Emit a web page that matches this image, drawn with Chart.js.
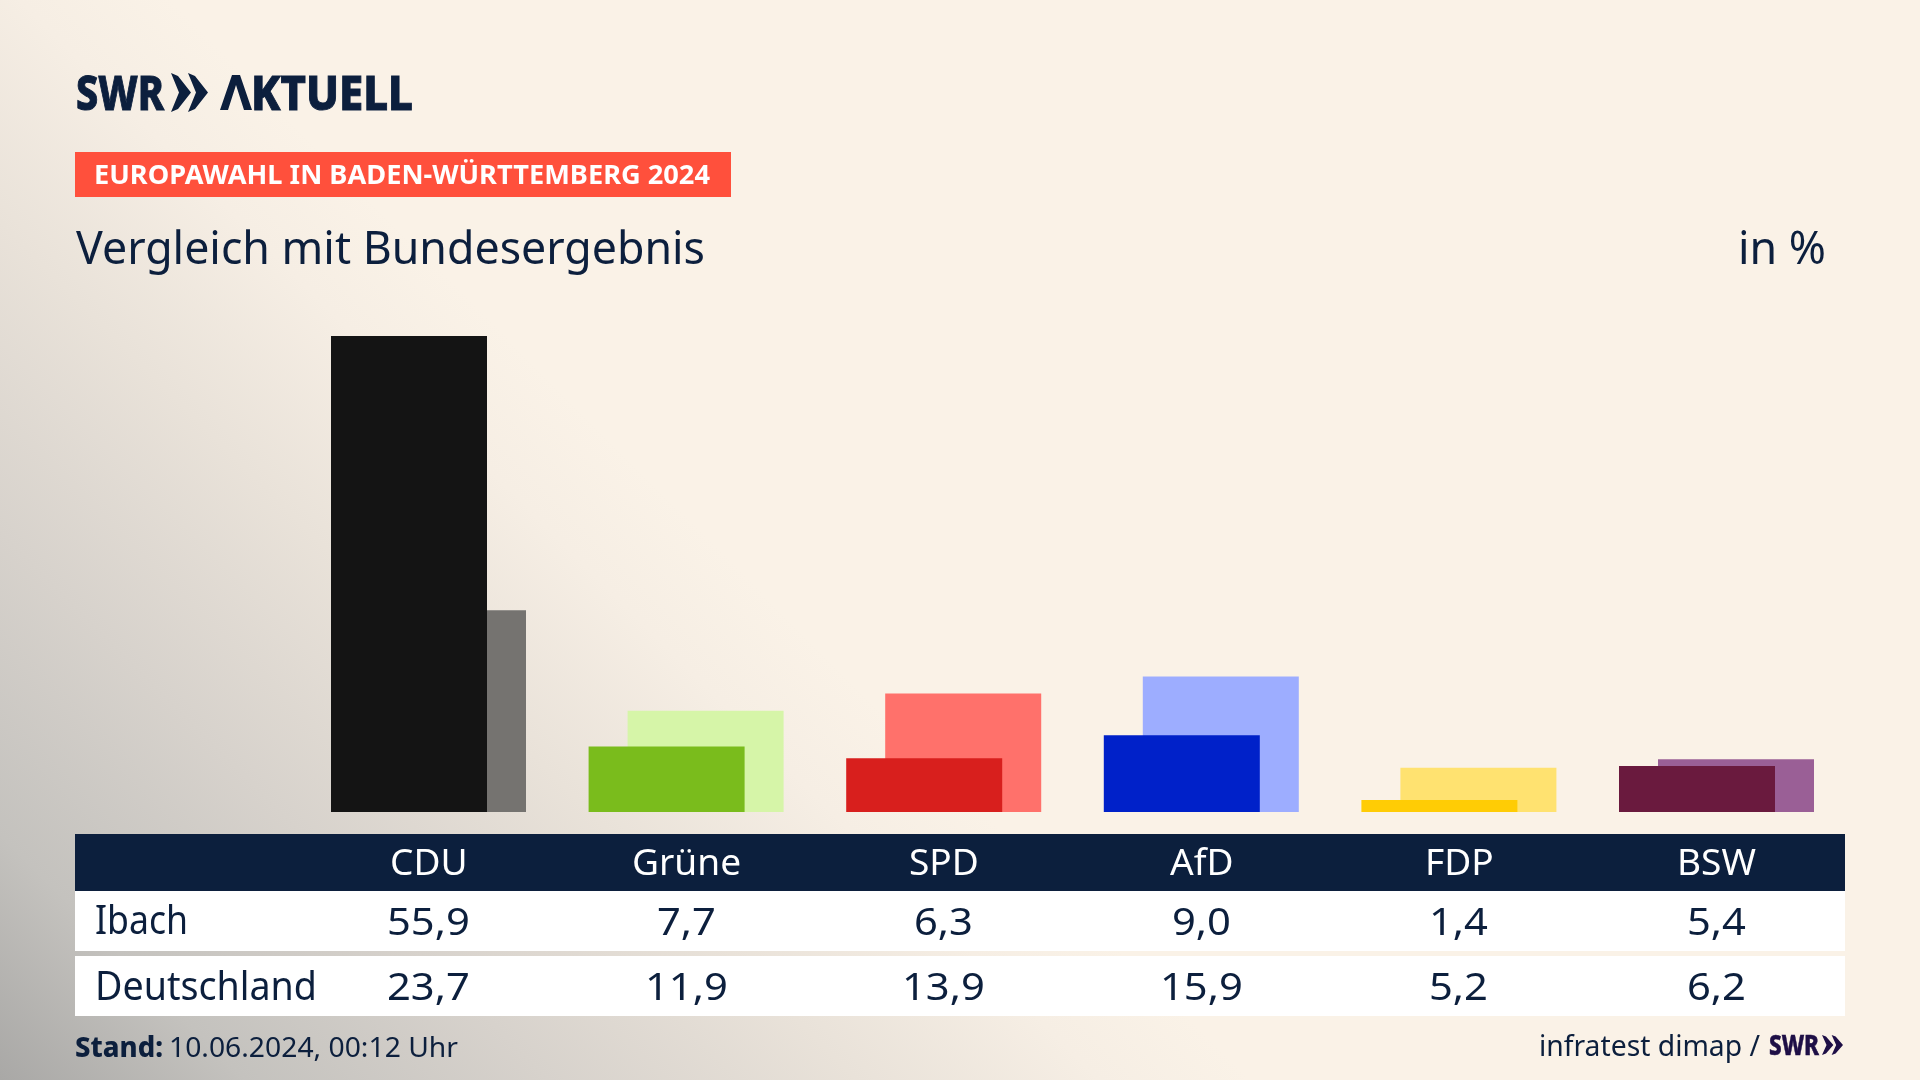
<!DOCTYPE html>
<html lang="de">
<head>
<meta charset="utf-8">
<title>Vergleich mit Bundesergebnis</title>
<script src="https://cdn.jsdelivr.net/npm/chart.js@4"></script>
<style>
  html, body { margin: 0; padding: 0; }
  #page {
    position: relative; width: 1920px; height: 1080px; overflow: hidden;
    background: linear-gradient(45deg, #a9a8a6 0%, #c4c2be 8.2%, #d7d2cc 18.3%, #e9e2d9 28.6%, #f6eee4 36.7%, #faf2e7 41.7%);
    font-family: "Noto Sans", sans-serif; color: #0c1f3d;
  }
  #chart { position: absolute; left: 0; top: 0; }
  .box { position: absolute; }
  .t { position: absolute; left: 0; top: 0; white-space: nowrap; transform-origin: left top; }
  svg.logo { position: absolute; }
</style>
</head>
<body>
<div id="page">
  <div class="box" style="left:75px;top:152px;width:656px;height:45px;background:#ff503c"></div>
  <div class="box" style="left:75px;top:834px;width:1770px;height:57px;background:#0c1f3d"></div>
  <div class="box" style="left:75px;top:891px;width:1770px;height:60px;background:#fff"></div>
  <div class="box" style="left:75px;top:956px;width:1770px;height:60px;background:#fff"></div>
  <canvas id="chart" width="1920" height="1080"></canvas>
</div>
<script>
/* DATA */
const parties = ["CDU", "Grüne", "SPD", "AfD", "FDP", "BSW"];
const ibach = [55.9, 7.7, 6.3, 9.0, 1.4, 5.4];
const deutschland = [23.7, 11.9, 13.9, 15.9, 5.2, 6.2];
const rowNames = ["Ibach", "Deutschland"];

const frontColors = ["#141414", "#7abc1c", "#d81f1d", "#0021c9", "#ffcc05", "#6a1a3e"];
const backColors = ["#757370", "#d6f5a8", "#ff716b", "#9dadff", "#ffe270", "#9a5f96"];

/* LAYOUT */
const page = document.getElementById("page");
const colCenter = (i) => 428.5 + i * 257.6;
const backShift = 39 / 257.6;

/* TEXT HELPER: x = left edge (or center), base = baseline y */
function addText(str, x, base, size, o = {}) {
  const el = document.createElement("div");
  el.className = "t";
  if (o.hideFirst) {
    // first letter stays in the text but the logo draws its own shape for it
    el.innerHTML = `<span style="color:transparent">${str[0]}</span>${str.slice(1)}`;
  } else {
    el.textContent = str;
  }
  el.style.fontSize = size + "px";
  el.style.fontWeight = o.weight || 400;
  if (o.color) el.style.color = o.color;
  if (o.stroke) el.style.webkitTextStroke = o.stroke + "px currentColor";
  const strut = document.createElement("span");
  strut.style.cssText = "display:inline-block;width:0;height:0";
  el.appendChild(strut);
  page.appendChild(el);
  el.style.top = base - strut.getBoundingClientRect().bottom + "px";
  const w = el.getBoundingClientRect().width;
  const sx = o.w ? o.w / w : o.sx || 1;
  el.style.transform = `scaleX(${sx})`;
  el.style.left = (o.center ? x - (w * sx) / 2 : x) + "px";
  return el;
}

function addShape(d, x, y, w, h, vw, vh, color) {
  const svg = document.createElementNS("http://www.w3.org/2000/svg", "svg");
  svg.setAttribute("class", "logo");
  svg.setAttribute("viewBox", `0 0 ${vw} ${vh}`);
  svg.setAttribute("preserveAspectRatio", "none");
  svg.style.cssText = `left:${x}px;top:${y}px;width:${w}px;height:${h}px`;
  svg.innerHTML = `<path fill="${color}" d="${d}"/>`;
  page.appendChild(svg);
}

const CHEVRONS = "M0 0L7 3L20 20L7 37L0 40L8 20ZM17 0L24 3L37 20L24 37L17 40L25 20Z";
const LAMBDA = "M0 35L12 0L20 0L32 35L24 35L16 10L8 35Z";

/* HEADER */
addText("SWR", 76, 110, 48, { weight: 800, w: 88, stroke: 1 });
addShape(CHEVRONS, 171, 73, 37, 39, 37, 40, "#0c1f3d");
addText("AKTUELL", 220, 110, 48, { weight: 800, w: 193, stroke: 1, hideFirst: true });
addShape(LAMBDA, 220, 75, 32, 35, 32, 35, "#0c1f3d");
addText("EUROPAWAHL IN BADEN-WÜRTTEMBERG 2024", 94, 184, 26, { weight: 700, color: "#fff", w: 616 });
addText("Vergleich mit Bundesergebnis", 76, 264, 45, { w: 629 });
addText("in %", 1738, 264, 45, { w: 88 });

/* TABLE */
parties.forEach((p, i) => {
  addText(p, colCenter(i), 875, 36, { color: "#fff", center: true, sx: 1.03 });
  addText(ibach[i].toFixed(1).replace(".", ","), colCenter(i), 935, 39, { center: true, sx: 1.07 });
  addText(deutschland[i].toFixed(1).replace(".", ","), colCenter(i), 1000, 39, { center: true, sx: 1.07 });
});
addText(rowNames[0], 95, 934, 40, { w: 93 });
addText(rowNames[1], 95, 1000, 40, { w: 222 });

/* FOOTER */
addText("Stand:", 75, 1057, 28, { weight: 800, w: 88 });
addText("10.06.2024, 00:12 Uhr", 169, 1057, 28, { w: 289 });
addText("infratest dimap /", 1539, 1056, 29, { w: 221 });
addText("SWR", 1769, 1055, 28, { weight: 800, color: "#1e0f46", w: 50, stroke: 0.5 });
addShape(CHEVRONS, 1822, 1035, 21, 20, 37, 40, "#1e0f46");

/* CHART */
const toPoints = (arr) => arr.map((v, i) => ({ x: i, y: v }));

new Chart(document.getElementById("chart"), {
  type: "bar",
  data: {
    labels: parties,
    datasets: [
      {
        label: rowNames[0],
        data: toPoints(ibach),
        backgroundColor: frontColors,
        xAxisID: "x",
        order: 1,
      },
      {
        label: rowNames[1],
        data: toPoints(deutschland),
        backgroundColor: backColors,
        xAxisID: "x2",
        order: 2,
      },
    ],
  },
  options: {
    responsive: false,
    animation: false,
    layout: { padding: { left: 280.2, right: 94.2, top: 301, bottom: 268 } },
    plugins: { legend: { display: false }, tooltip: { enabled: false } },
    datasets: { bar: { grouped: false, barThickness: 156, inflateAmount: 0, borderWidth: 0 } },
    scales: {
      x: { type: "linear", display: false, offset: false, min: -0.5, max: 5.5 },
      x2: { type: "linear", display: false, offset: false, min: -0.5 - backShift, max: 5.5 - backShift },
      y: { display: false, min: 0, max: 60 },
    },
  },
});
</script>
</body>
</html>
